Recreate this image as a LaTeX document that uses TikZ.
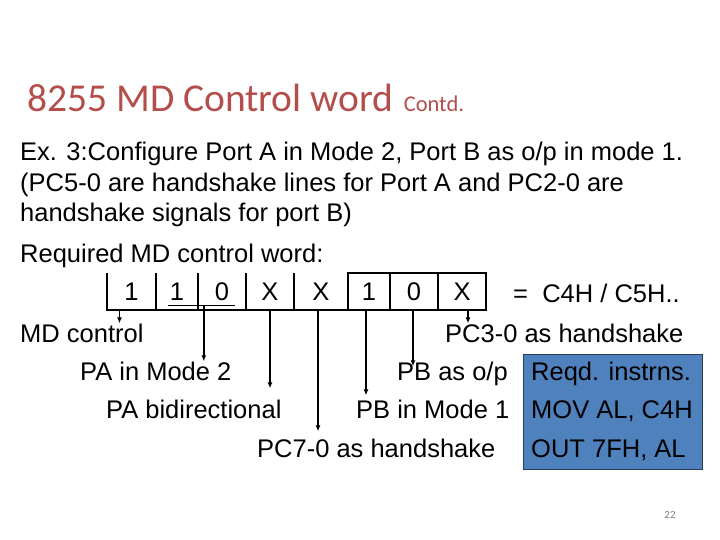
\documentclass[tikz,border=0pt]{standalone}
\usepackage{fontspec}
\setmainfont{Liberation Sans}
\newfontfamily\titlefont{Carlito}
\usepackage{tikz}
\usetikzlibrary{arrows.meta, positioning}
\definecolor{titlered}{RGB}{180,78,75}
\definecolor{boxblue}{RGB}{79,129,189}
\definecolor{boxedge}{RGB}{40,60,90}

\begin{document}
\begin{tikzpicture}[x=1pt, y=-1pt,
    txt/.style={font=\fontsize{25.5}{30}\selectfont, inner sep=0pt, anchor=base west},
    bit/.style={font=\fontsize{25.5}{30}\selectfont, inner sep=0pt, minimum height=37pt,
        text height=18.3pt, text depth=0pt},
    frame/.style={line width=2pt},
    arr/.style={-{Latex[length=6pt,width=5pt]}, line width=1.6pt}]
    \useasboundingbox (0,0) rectangle (720,540);

    % Title
    \node[anchor=base west, inner sep=0pt, text=titlered,
        font=\titlefont\fontsize{39.5}{44}\selectfont] (title) at (27,112) {8255 MD Control word};
    \node[anchor=base west, inner sep=0pt, text=titlered,
        font=\titlefont\fontsize{22.5}{26}\selectfont] (contd) at ([xshift=10pt]title.base east) {Contd.};

    % Problem text
    \node[txt] (ex)  at (20,161) {Ex. 3:Configure Port A in Mode 2, Port B as o/p in mode 1.};
    \node[txt] (ex2) at (20,192) {(PC5-0 are handshake lines for Port A and PC2-0 are};
    \node[txt] (ex3) at (20,222) {handshake signals for port B)};
    \node[txt] (req) at (20,262) {Required MD control word:};

    % Control word bits
    \foreach \n/\x/\w/\v in {b7/131.5/49pt/1, b6/177/42pt/1, b5/222/48pt/0, b4/270/48pt/X,
        b3/321/54pt/X, b2/369/42pt/1, b1/414/48pt/0, b0/462/48pt/X}
        \node[bit, minimum width=\w] (\n) at (\x,291.5) {\v};
    \draw[frame] (b7.north west) -- (b7.south west) -- (b0.south east);
    \foreach \n in {b6,b5,b4,b3} \draw[frame] (\n.north west) -- (\n.south west);
    \draw[frame] (b2.north west) rectangle (b0.south east);
    \foreach \n in {b1,b0} \draw[frame] (\n.north west) -- (\n.south west);
    \node[txt] (eqn) at (513,302) {=\ \ C4H / C5H..};

    % Mode bits of group A
    \coordinate (ulA) at (167.7,305.7);
    \coordinate (ulB) at (235,305.7);
    \draw[line width=1.2pt] (ulA) -- (ulB);

    % Meaning of the bits
    \node[txt] (mdctl)  at (20,342)  {MD control};
    \node[txt] (pchs3)  at (445,342) {PC3-0 as handshake};
    \node[txt] (pamode) at (80,380)  {PA in Mode 2};
    \node[txt] (pbout)  at (397,380) {PB as o/p};
    \node[txt] (pabi)   at (106,418) {PA bidirectional};
    \node[txt] (pbmode) at (356,418) {PB in Mode 1};
    \node[txt] (pchs7)  at (257,457) {PC7-0 as handshake};

    \draw[arr] ([xshift=-12pt]b7.south) -- ([xshift=-12pt]b7.south |- mdctl.north);
    \draw[arr] ([xshift=6pt]b5.west |- ulA) -- ([xshift=6pt]b5.west |- pamode.north);
    \draw[arr] (b4.south) -- ([yshift=11pt]b4.south |- pabi.north);
    \draw[arr] ([xshift=-3pt]b3.south) -- ([xshift=-3pt,yshift=7pt]b3.south |- pchs7.north);
    \draw[arr] ([xshift=-3pt]b2.south) -- ([xshift=-3pt,yshift=4pt]b2.south |- pbmode.north);
    \draw[arr] ([xshift=-1pt]b1.south) -- ([xshift=-1pt,yshift=-5pt]b1.south |- pbout.north);
    \draw[arr] ([xshift=6pt]b0.south) -- ([xshift=6pt]b0.south |- pchs3.north);

    % Instructions box
    \node[draw=boxedge, fill=boxblue, line width=1pt, minimum width=179pt,
        minimum height=115pt, inner sep=0pt] (instr) at (612.5,411.5) {};
    \node[txt] (reqd) at (531,380) {Reqd. instrns.};
    \node[txt] (mov)  at (531,418) {MOV AL, C4H};
    \node[txt] (out)  at (531,457) {OUT 7FH, AL};

    % Slide number
    \node[text=gray, font=\titlefont\fontsize{11}{12}\selectfont] (pg) at (670,515) {22};
\end{tikzpicture}
\end{document}
